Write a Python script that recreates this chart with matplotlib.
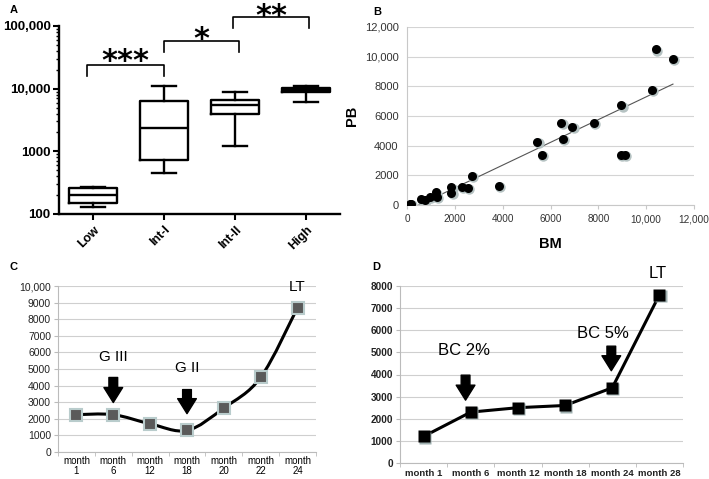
import numpy as np
import matplotlib
matplotlib.use("Agg")
import matplotlib.pyplot as plt
from matplotlib.path import Path
from matplotlib.patches import PathPatch
from matplotlib.ticker import FixedLocator, LogLocator, NullFormatter
from matplotlib.transforms import offset_copy

plt.rcParams['font.family'] = ['Liberation Sans', 'DejaVu Sans']

# ---- data ----
# A: box plot stats (whislo, q1, med, q3, whishi)
groups = ['Low', 'Int-I', 'Int-II', 'High']
whislo = [130, 450, 1200, 6200]
q1 = [150, 730, 3900, 8800]
med = [200, 2400, 5400, 9500]
q3 = [260, 6300, 6700, 10300]
whishi = [270, 11200, 8700, 11200]
# brackets: (left group, right group), top level, drop level, label, label level
sig_pairs = [(0, 1), (1, 2), (2, 3)]
sig_top = [24000, 58000, 138000]
sig_drop = [15800, 38000, 93000]
sig_labels = ['***', '*', '**']
sig_label_y = [37000, 85000, 195000]

# B: BM vs PB
bm = [150, 120, 600, 740, 950, 1200, 1240, 1850, 1850, 2300, 2550, 2700, 3830,
      5450, 5630, 6450, 6510, 6910, 7800, 8930, 9100, 8960, 10240, 10400, 11120]
pb = [70, 50, 380, 340, 560, 860, 560, 1190, 830, 1240, 1170, 1980, 1300,
      4280, 3380, 5560, 4460, 5270, 5560, 3400, 3400, 6730, 7750, 10500, 9860]

# C
c_labels = ['month\n1', 'month\n6', 'month\n12', 'month\n18', 'month\n20', 'month\n22', 'month\n24']
c_vals = [2250, 2250, 1700, 1300, 2650, 4500, 8700]
c_notes = [('G III', 1, 5730), ('G II', 3, 5070), ('LT', 6, 9960)]
c_arrows = [(1, 4490, 2980), (3, 3760, 2310)]

# D
d_labels = ['month 1', 'month 6', 'month 12', 'month 18', 'month 24', 'month 28']
d_vals = [1200, 2300, 2500, 2600, 3400, 7600]
d_notes = [('BC 2%', 0.86, 5100), ('BC 5%', 3.8, 5860), ('LT', 4.97, 8570)]
d_arrows = [(0.89, 3970, 2840), (3.98, 5280, 4170)]

W, H = 709, 479
fig = plt.figure(figsize=(W / 100, H / 100), dpi=100)


def box(l, t, r, b):
    return [l / W, 1 - b / H, (r - l) / W, (b - t) / H]


for lab, (x, y) in zip('ABCD', [(14, 10), (377, 12), (14, 267), (376, 267)]):
    fig.text(x / W, 1 - y / H, lab, fontsize=8, fontweight='bold', ha='center', va='center')

# ---- A ----
ax = fig.add_axes(box(59, 26, 340, 214))
stats = [dict(whislo=a, q1=b, med=c, q3=d, whishi=e, label=g)
         for a, b, c, d, e, g in zip(whislo, q1, med, q3, whishi, groups)]
lp = dict(color='black', linewidth=1.7)
ax.bxp(stats, positions=range(4), widths=0.68, capwidths=0.35, showfliers=False,
       boxprops=lp, whiskerprops=lp, capprops=lp, medianprops=lp)
ax.set_yscale('log')
ax.set_ylim(100, 100000)
ax.set_xlim(-0.48, 3.48)
ax.set_yticks([100, 1000, 10000, 100000])
ax.set_yticklabels(['100', '1000', '10,000', '100,000'], fontweight='bold', fontsize=9.5)
ax.yaxis.set_minor_locator(LogLocator(base=10, subs=np.arange(2, 10)))
ax.yaxis.set_minor_formatter(NullFormatter())
ax.set_xticks(range(4))
ax.set_xticklabels(groups, rotation=45, ha='right', rotation_mode='anchor',
                   fontweight='bold', fontsize=9)
for s in ['top', 'right']:
    ax.spines[s].set_visible(False)
for s in ['left', 'bottom']:
    ax.spines[s].set_linewidth(1.7)
ax.tick_params(which='major', width=1.5, length=4, pad=2)
ax.tick_params(which='minor', width=1.0, length=2)
ax.tick_params(axis='x', pad=3)
# star text: baseline shifted so the glyph centre sits on the label level
star_tr = offset_copy(ax.transData, fig=fig, x=0, y=-12.5, units='points')
for (i, j), top, drop, lab, ly in zip(sig_pairs, sig_top, sig_drop, sig_labels, sig_label_y):
    xl = i - 0.08 if i == 0 else (i - 0.03 if i == 2 else i)
    xr = j + 0.05 if j >= 2 else j
    ax.plot([xl, xl, xr, xr], [drop, top, top, drop], color='black', lw=1.2, clip_on=False)
    ax.text((xl + xr) / 2, ly, lab, ha='center', va='baseline', transform=star_tr,
            fontsize=22, fontweight='bold', family='DejaVu Sans', clip_on=False)

# ---- B ----
ax = fig.add_axes(box(407, 27, 694, 205))
sh = offset_copy(ax.transData, fig=fig, x=1.0, y=-1.0, units='points')
ax.plot(bm, pb, 'o', ms=7.5, color='#b5c2c2', mec='none', transform=sh, zorder=2)
ax.plot(bm, pb, 'o', ms=6.5, color='black', mec='none', zorder=3)
k, b0 = np.polyfit(bm, pb, 1)
xs = np.array([min(bm), max(bm)])
ax.plot(xs, k * xs + b0, color='#555555', lw=0.8, zorder=1)
ax.set_xlim(0, 12000)
ax.set_ylim(0, 12000)
ticks = [0, 2000, 4000, 6000, 8000, 10000, 12000]
tl = ['0', '2000', '4000', '6000', '8000', '10,000', '12,000']
ax.set_xticks(ticks)
ax.set_xticklabels(tl)
ax.set_yticks(ticks)
ax.set_yticklabels(tl)
ax.grid(axis='y', color='#d4d4d4', lw=0.8)
ax.set_axisbelow(True)
for s in ['top', 'right']:
    ax.spines[s].set_visible(False)
for s in ['left', 'bottom']:
    ax.spines[s].set_color('#c8c8c8')
ax.tick_params(axis='both', colors='#c8c8c8', labelcolor='#333333', labelsize=8, length=3)
ax.tick_params(axis='x', labelsize=7.2)
ax.tick_params(axis='y', length=0, pad=6)
ax.set_xlabel('BM', fontweight='bold', fontsize=10.5, labelpad=9)
ax.set_ylabel('PB', fontweight='bold', fontsize=10.5, labelpad=4)

# ---- C ----
ax = fig.add_axes(box(58, 286, 316, 452))
xc = np.arange(len(c_vals))
yc = np.array(c_vals, dtype=float)
# smoothed line (Catmull-Rom as cubic Bezier segments through the points)
verts = [(xc[0], yc[0])]
codes = [Path.MOVETO]
n = len(xc)
for i in range(n - 1):
    p0 = (xc[max(i - 1, 0)], yc[max(i - 1, 0)])
    p1 = (xc[i], yc[i])
    p2 = (xc[i + 1], yc[i + 1])
    p3 = (xc[min(i + 2, n - 1)], yc[min(i + 2, n - 1)])
    t = 1 / 6
    c1 = (p1[0] + (p2[0] - p0[0]) * t, p1[1] + (p2[1] - p0[1]) * t)
    c2 = (p2[0] - (p3[0] - p1[0]) * t, p2[1] - (p3[1] - p1[1]) * t)
    verts += [c1, c2, p2]
    codes += [Path.CURVE4] * 3
ax.add_patch(PathPatch(Path(verts, codes), fill=False, lw=2.2, color='black', zorder=3))
ax.plot(xc, yc, 's', ms=8.5, color='#5a5a5a', mec='#b9cccc', mew=1.5, zorder=4)
ax.set_xlim(-0.5, 6.5)
ax.set_ylim(0, 10000)
ax.set_yticks(range(0, 10001, 1000))
ax.set_yticklabels([f'{v:,}' if v >= 10000 else str(v) for v in range(0, 10001, 1000)])
ax.set_xticks(xc)
ax.set_xticklabels(c_labels, linespacing=1.0)
ax.xaxis.set_minor_locator(FixedLocator(np.arange(-0.5, 7, 1)))
ax.tick_params(axis='x', which='major', length=0, labelsize=7, pad=3)
ax.tick_params(axis='x', which='minor', length=3, color='#bbbbbb')
ax.tick_params(axis='y', length=3, color='#bbbbbb', labelsize=7.5, pad=2, labelcolor='#222222')
ax.grid(axis='y', color='#cfcfcf', lw=0.8)
ax.set_axisbelow(True)
for s in ['top', 'right']:
    ax.spines[s].set_visible(False)
for s in ['left', 'bottom']:
    ax.spines[s].set_color('#bbbbbb')
for txt, x, y in c_notes:
    ax.text(x, y, txt, ha='center', va='center', fontsize=11, clip_on=False)
for x, y0, y1 in c_arrows:
    ax.annotate('', xy=(x, y1), xytext=(x, y0),
                arrowprops=dict(arrowstyle='simple,head_width=0.75,head_length=0.6,tail_width=0.35',
                                color='black', shrinkA=0, shrinkB=0, mutation_scale=18))

# ---- D ----
ax = fig.add_axes(box(400, 286, 683, 463))
xd = np.arange(len(d_vals))
ax.plot(xd, d_vals, '-', color='black', lw=2.2, zorder=3)
sh = offset_copy(ax.transData, fig=fig, x=0.8, y=-0.8, units='points')
ax.plot(xd, d_vals, 's', ms=9, color='#9fb0b0', mec='none', transform=sh, zorder=4)
ax.plot(xd, d_vals, 's', ms=8.5, color='black', mec='none', zorder=5)
ax.set_xlim(-0.5, 5.5)
ax.set_ylim(0, 8000)
ax.set_yticks(range(0, 8001, 1000))
ax.set_xticks(xd)
ax.set_xticklabels(d_labels, fontweight='bold')
ax.xaxis.set_minor_locator(FixedLocator(np.arange(-0.5, 6, 1)))
ax.tick_params(axis='x', which='major', length=0, labelsize=6.8, pad=4, labelcolor='#222222')
ax.tick_params(axis='x', which='minor', length=3, color='#bbbbbb')
ax.tick_params(axis='y', length=3, color='#bbbbbb', labelsize=7.2, pad=2, labelcolor='#222222')
for lbl in ax.get_yticklabels():
    lbl.set_fontweight('bold')
ax.grid(axis='y', color='#cfcfcf', lw=0.8)
ax.set_axisbelow(True)
for s in ['top', 'right']:
    ax.spines[s].set_visible(False)
for s in ['left', 'bottom']:
    ax.spines[s].set_color('#bbbbbb')
for txt, x, y in d_notes:
    ax.text(x, y, txt, ha='center', va='center', fontsize=12, clip_on=False)
for x, y0, y1 in d_arrows:
    ax.annotate('', xy=(x, y1), xytext=(x, y0),
                arrowprops=dict(arrowstyle='simple,head_width=0.75,head_length=0.6,tail_width=0.35',
                                color='black', shrinkA=0, shrinkB=0, mutation_scale=18))

fig.savefig('out.png', dpi=100)
